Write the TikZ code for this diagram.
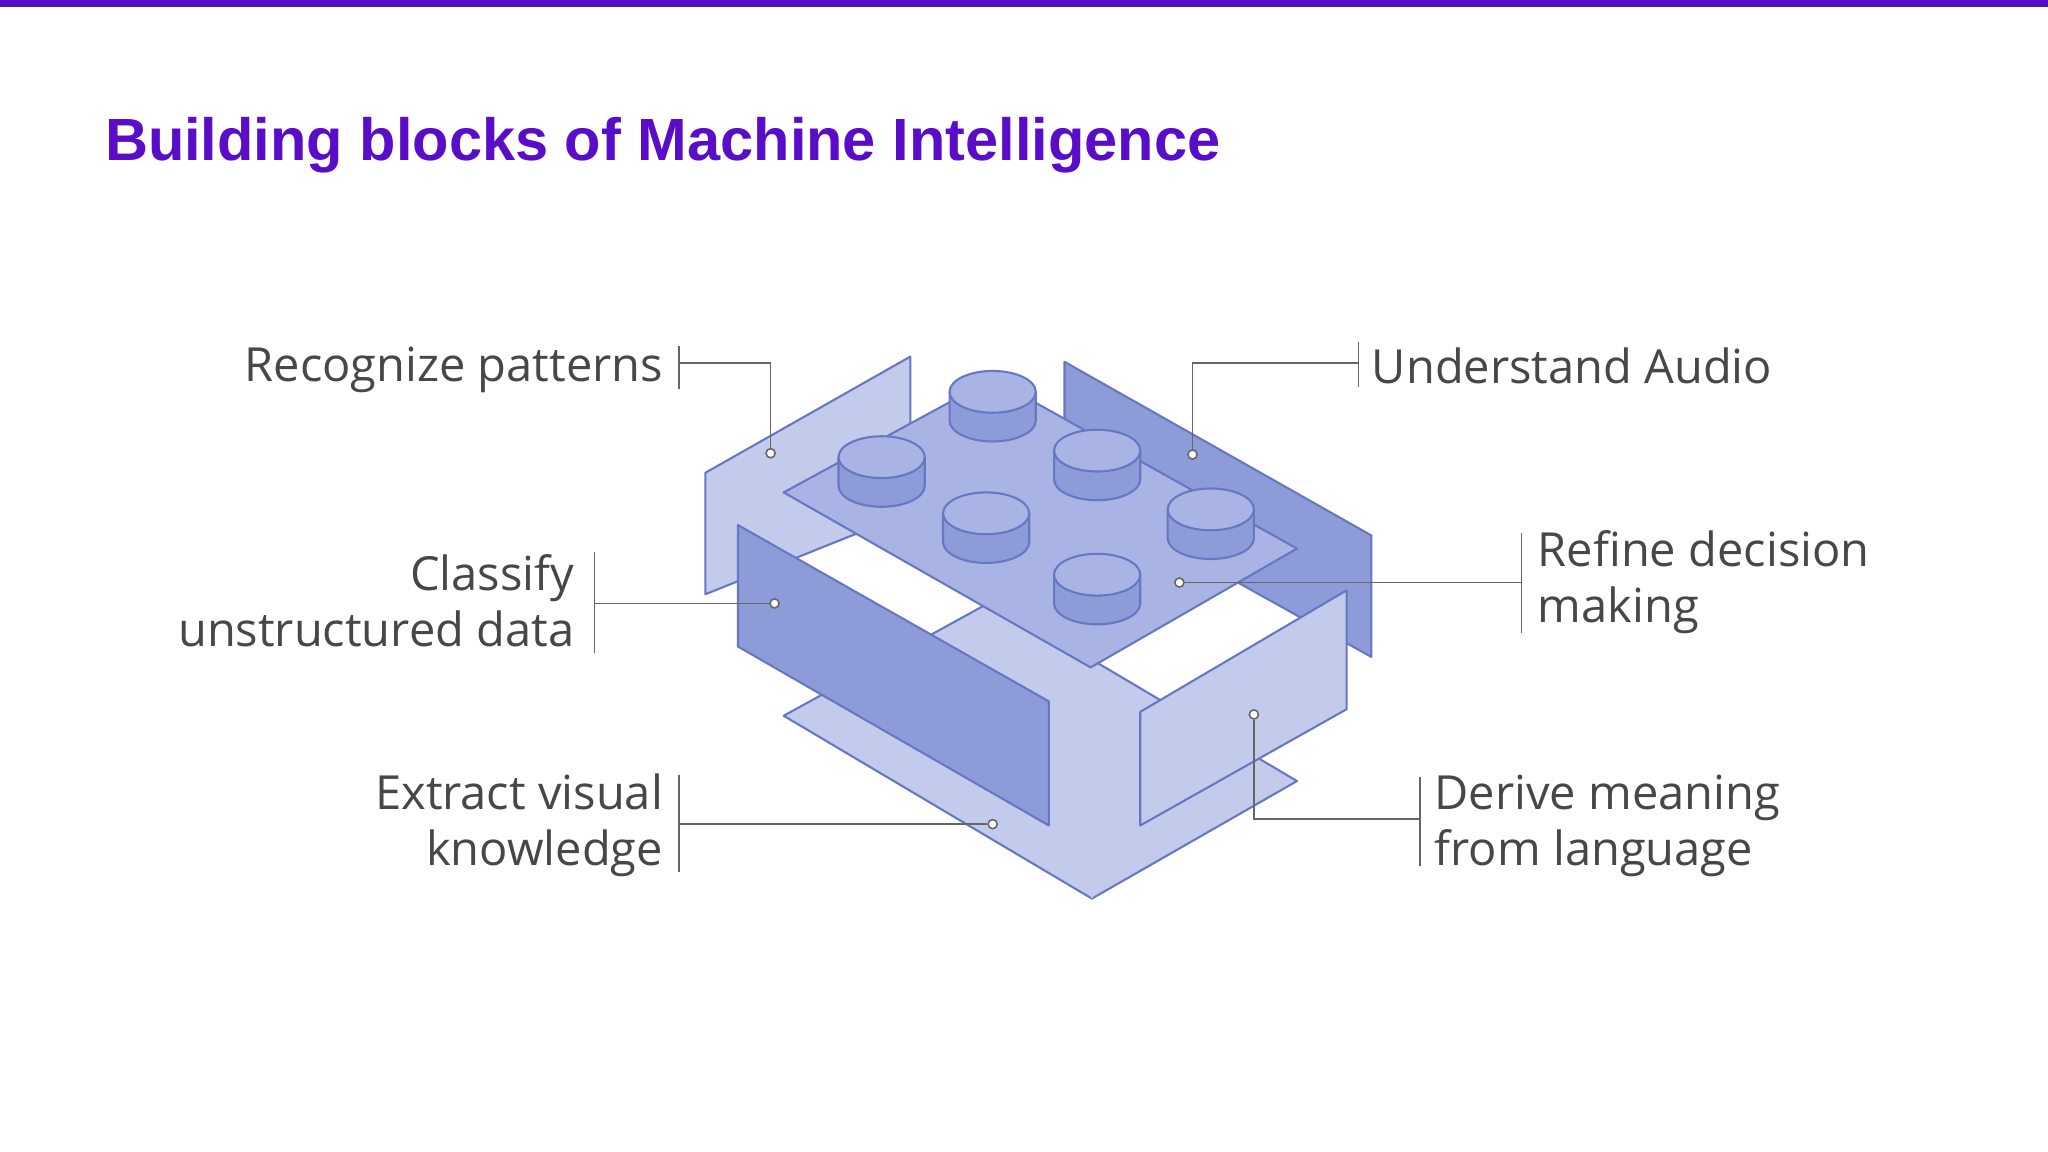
\documentclass[tikz,border=0pt]{standalone}
\usepackage{fontspec}
\setmainfont{Open Sans}
\newfontfamily\titlefont{Liberation Sans}
\begin{document}
\begin{tikzpicture}[x=0.5pt,y=-0.5pt,
  edge/.style={draw=edgec, line width=0.8pt, line join=round},
  light/.style={edge, fill=lightc},
  dark/.style={edge, fill=darkc},
  mid/.style={edge, fill=midc},
  lead/.style={draw=gray!80!black, line width=0.6pt},
  dot/.style={circle, fill=white, draw=gray!80!black, line width=0.6pt, inner sep=0pt, minimum size=3.5pt},
  lbl/.style={font=\fontsize{18}{21.5}\selectfont, text=black!72, inner sep=0pt, align=#1},
]
\definecolor{lightc}{HTML}{C3CBEC}
\definecolor{midc}{HTML}{A9B4E4}
\definecolor{darkc}{HTML}{8D9BD8}
\definecolor{titlec}{HTML}{5A0DC8}
\definecolor{edgec}{HTML}{6777C2}
\useasboundingbox (0,0) rectangle (1568,882);
\fill[titlec] (0,0) rectangle (1568,5);
\node[anchor=west, font=\titlefont\bfseries\fontsize{22.8}{26}\selectfont, text=titlec, inner sep=0pt] (title) at (80,111) {Building blocks of Machine Intelligence};
% back panels
\path[light] (540,362) -- (697,273) -- (697,392) -- (540,455) -- cycle;
\path[dark] (815,277) -- (1050,410) -- (1050,503) -- (815,372) -- cycle;
% bottom plate
\path[light] (600,548) -- (760,460) -- (993,598) -- (836,688) -- cycle;
% central body
\path[light, draw=none] (716,488) -- (835,511) -- (873,545) -- (873,632) -- (836,688) -- (803,632) -- (803,537) -- cycle;
% top plate
\path[mid] (600,377) -- (760,290) -- (993,420) -- (835,511) -- cycle;
% studs
\foreach \n/\cx/\cy in {s1/760/300, s2/675/350, s3/840/345, s4/755/393, s5/927/390, s6/840/440}{
  \path[dark] (\cx-33,\cy) -- (\cx-33,\cy+22) arc[start angle=180,end angle=0,x radius=33,y radius=16] -- (\cx+33,\cy) -- cycle;
  \path[mid] (\cx,\cy) ellipse[x radius=33,y radius=16];
}
% front panels
\path[dark] (565,402) -- (803,537) -- (803,632) -- (565,495) -- cycle;
\path[light] (873,545) -- (1031,452) -- (1031,543) -- (873,632) -- cycle;
% callouts
\node[dot] (d1) at (590,347) {};
\node[dot] (d2) at (913,348) {};
\node[dot] (d3) at (593,462) {};
\node[dot] (d4) at (903,446) {};
\node[dot] (d5) at (760,631) {};
\node[dot] (d6) at (960,547) {};
\coordinate (b1) at (520,278); \draw[lead] (520,265) -- (520,298);
\coordinate (b2) at (1040,278); \draw[lead] (1040,262) -- (1040,296);
\coordinate (b3) at (455,462); \draw[lead] (455,423) -- (455,500);
\coordinate (b4) at (1165,446); \draw[lead] (1165,408) -- (1165,485);
\coordinate (b5) at (520,631); \draw[lead] (520,593) -- (520,668);
\coordinate (b6) at (1087,627); \draw[lead] (1087,595) -- (1087,663);
\draw[lead] (b1) -| (d1);
\draw[lead] (b2) -| (d2);
\draw[lead] (b3) -- (d3);
\draw[lead] (b4) -- (d4);
\draw[lead] (b5) -- (d5);
\draw[lead] (b6) -| (d6);
\node[lbl=right, anchor=east] (t1) at (508,283) {Recognize patterns};
\node[lbl=left, anchor=west] (t2) at (1050,280) {Understand Audio};
\node[lbl=right, anchor=east] (t3) at (440,460) {Classify\\unstructured data};
\node[lbl=left, anchor=west] (t4) at (1177,446) {Refine decision\\making};
\node[lbl=right, anchor=east] (t5) at (508,632) {Extract visual\\knowledge};
\node[lbl=left, anchor=west] (t6) at (1098,632) {Derive meaning\\from language};
\end{tikzpicture}
\end{document}
